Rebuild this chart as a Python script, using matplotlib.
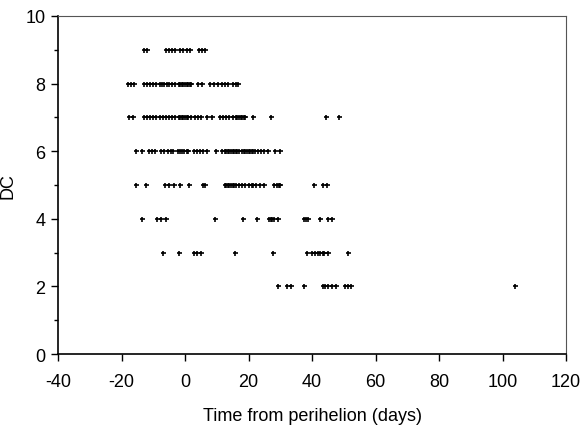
import matplotlib
matplotlib.use("Agg")
import matplotlib.pyplot as plt
from matplotlib.ticker import MultipleLocator

plt.rcParams['font.family'] = ['Liberation Sans', 'DejaVu Sans']
plt.rcParams['axes.unicode_minus'] = False

dc9 = [-13, -12, -6, -5, -4, -3, -1.5, -0.5, 0.5, 1.5, 4.5, 5.3, 6.2]
dc8 = [-18, -17, -16, -13, -12, -11, -10, -9, -8, -7.2, -6.5, -5.8, -5, -4,
       -3, -2, -1.5, -1, -0.5, 0, 0.5, 1, 1.5, 2, 4, 5.2, 7.8, 9, 10.5, 11.5,
       12.5, 13.5, 15, 16, 16.8]
dc7 = [-17.5, -16.5, -13, -12, -11, -10, -9, -8, -7, -6, -5, -4, -3, -2, -1.5,
       -1, -0.5, 0, 0.5, 1, 2, 3, 4, 5, 7, 8.5, 11, 12, 13, 14, 15, 16, 16.5,
       17, 17.5, 18, 18.5, 19, 21.5, 27, 44.5, 48.5]
dc6 = [-15.3, -13.5, -11.5, -10.5, -9.5, -7.5, -6.5, -5.5, -4.5, -3.8, -2.3,
       -1.5, -1, -0.3, 0.5, 1, 2.8, 3.8, 4.8, 5.8, 6.8, 9.6, 11.8, 12.5, 13,
       13.5, 14, 14.5, 15, 15.5, 16, 16.5, 17, 18, 18.5, 19, 19.5, 20, 20.5,
       21, 21.5, 22, 23, 24, 25, 26, 28.3, 29.8]
dc5 = [-15.3, -12.3, -6.2, -5, -3.4, -1.5, 1.4, 5.8, 6.3, 12.5, 13, 13.5, 14,
       14.5, 15, 15.5, 16, 17, 18, 19, 20, 21, 21.5, 22.5, 23.5, 25, 28, 29,
       29.5, 30, 40.5, 43.5, 44.6]
dc4 = [-13.6, -8.7, -7.7, -6, 9.3, 18.3, 22.8, 26.3, 27, 27.5, 28, 29.2, 37.4,
       38, 38.6, 42.4, 45, 46.2]
dc3 = [-7, -1.9, 2.8, 3.8, 4.9, 15.7, 27.8, 38.3, 40.1, 41, 41.8, 42.6, 43.3,
       43.8, 45, 51.2]
dc2 = [29.3, 32.2, 33.3, 37.4, 43.3, 44.2, 45, 46.2, 47.4, 50.4, 51.3, 52.3,
       103.8]

series = {9: dc9, 8: dc8, 7: dc7, 6: dc6, 5: dc5, 4: dc4, 3: dc3, 2: dc2}

fig = plt.figure(figsize=(5.8, 4.31), dpi=100)
ax = fig.add_axes([0.1, 0.1763, 0.876, 0.7843])

for level, xs in series.items():
    ax.plot(xs, [level] * len(xs), linestyle='none', marker='+',
            markersize=3.6, markeredgewidth=1.2, color='black')

ax.set_xlim(-40, 120)
ax.set_ylim(0, 10)
ax.xaxis.set_major_locator(MultipleLocator(20))
ax.yaxis.set_major_locator(MultipleLocator(2))
ax.yaxis.set_minor_locator(MultipleLocator(1))
ax.tick_params(axis='both', which='major', direction='out', length=5,
               width=1, labelsize=13, colors='black')
ax.tick_params(axis='x', which='major', pad=9)
ax.tick_params(axis='y', which='major', pad=4)
ax.tick_params(axis='y', which='minor', direction='out', length=3, width=1)
for s in ['left', 'bottom']:
    ax.spines[s].set_linewidth(1.2)
for s in ['top', 'right']:
    ax.spines[s].set_linewidth(0.8)
    ax.spines[s].set_color('#555555')

ax.set_xlabel('Time from perihelion (days)', fontsize=13, labelpad=12)
ax.set_ylabel('DC', fontsize=13)
ax.yaxis.set_label_coords(-0.082, 0.5)

fig.savefig('out.png', dpi=100)
